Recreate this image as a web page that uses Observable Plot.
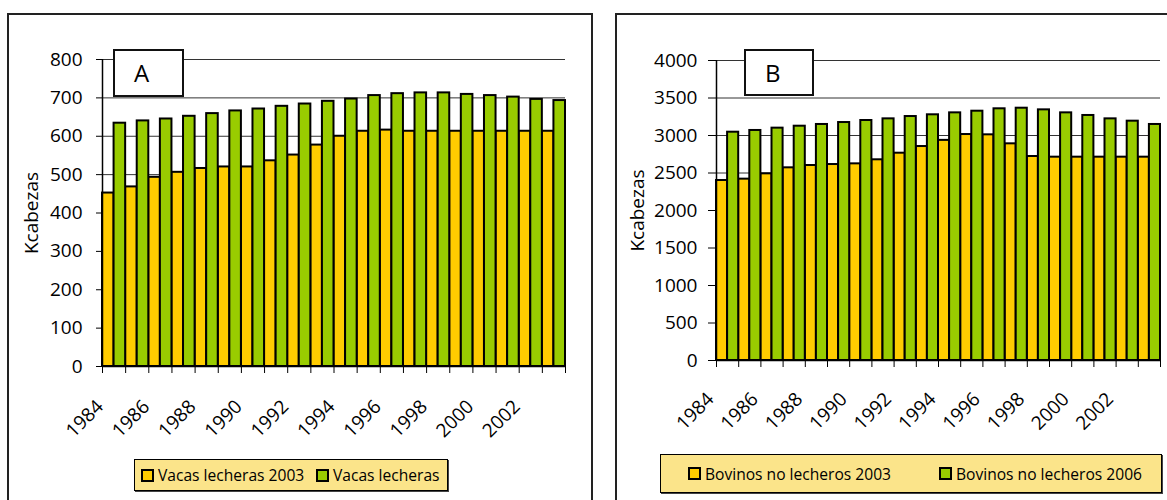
<!DOCTYPE html>
<html>
<head>
<meta charset="utf-8">
<script src="https://cdn.jsdelivr.net/npm/d3@7"></script>
<script src="https://cdn.jsdelivr.net/npm/@observablehq/plot@0.6"></script>
<style>
  body { margin: 0; background: #fff; font-family: "Open Sans", sans-serif; }
  #page { position: relative; width: 1167px; height: 500px; overflow: hidden; background: #fff; }
  .panel { position: absolute; border: 2px solid #222; box-sizing: border-box; }
  .plot { position: absolute; top: 0; }
  .plot svg { overflow: visible; }
  .plot svg text { font-size: 19px; font-family: "Open Sans", sans-serif; fill: #000; }
  .tag { position: absolute; background: #fff; border: 2px solid #111; box-sizing: border-box;
         font-size: 24px; line-height: 44px; color: #000; }
  .legend { position: absolute; background: #fbe48a; border: 1px solid #000; box-shadow: 1px 1px 0 #444;
            box-sizing: border-box; font-size: 15.6px; color: #000; }
  .item { position: absolute; top: 0; height: 100%; display: flex; align-items: center; white-space: nowrap; }
  .sw { display: inline-block; width: 13px; height: 13px; border: 2px solid #000; box-sizing: border-box; margin-right: 4px; }
</style>
</head>
<body>
<div id="page">
  <div class="panel" style="left:7px;top:13px;width:586px;height:520px;"></div>
  <div class="panel" style="left:615px;top:13px;width:600px;height:520px;"></div>
  <div id="plotA" class="plot" style="left:0px;"></div>
  <div id="plotB" class="plot" style="left:590px;"></div>
  <div class="tag" style="left:113px;top:49px;width:71px;height:48px;padding-left:19px;">A</div>
  <div class="tag" style="left:744px;top:49px;width:70px;height:47px;padding-left:19px;">B</div>
  <div id="legA" class="legend" style="left:134px;top:459px;width:314px;height:32px;"></div>
  <div id="legB" class="legend" style="left:660px;top:454px;width:502px;height:39px;"></div>
</div>
<script>
const years = [1984,1985,1986,1987,1988,1989,1990,1991,1992,1993,1994,1995,1996,1997,1998,1999,2000,2001,2002,2003];
const labelYears = [1984,1986,1988,1990,1992,1994,1996,1998,2000,2002];

const vacas2003 = [452,468,493,506,516,520,520,536,551,577,600,613,616,613,613,613,613,613,613,613];
const vacas     = [634,640,645,652,659,666,671,678,684,691,697,706,711,713,713,709,706,702,696,693];
const bovinos2003 = [2400,2418,2489,2569,2600,2613,2622,2676,2764,2853,2935,3013,3009,2889,2720,2711,2711,2711,2711,2711];
const bovinos2006 = [3044,3067,3098,3124,3147,3173,3200,3222,3253,3276,3302,3324,3356,3364,3342,3302,3267,3222,3191,3147];

const ticksA = [0,100,200,300,400,500,600,700,800];
const ticksB = [0,500,1000,1500,2000,2500,3000,3500,4000];

const seriesA = ["Vacas lecheras 2003", "Vacas lecheras"];
const seriesB = ["Bovinos no lecheros 2003", "Bovinos no lecheros 2006"];
const colors = ["#FFCC00", "#99CC00"];

function makeChart(s1, s2, yTicks, o) {
  const left = years.map((yr, i) => ({x1: yr - 0.5, x2: yr, v: s1[i]}));
  const right = years.map((yr, i) => ({x1: yr, x2: yr + 0.5, v: s2[i]}));
  const bounds = years.map(yr => yr - 0.5).concat([years[years.length - 1] + 0.5]);
  const x0 = years[0] - 0.5;
  return Plot.plot({
    width: o.width, height: o.height,
    marginLeft: o.ml, marginRight: o.mr, marginTop: o.mt, marginBottom: o.mb,
    style: {fontFamily: "'Open Sans', sans-serif", fontSize: "19px", color: "#000", background: "transparent", overflow: "visible"},
    x: {domain: [x0, years[years.length - 1] + 0.5]},
    y: {domain: [0, yTicks[yTicks.length - 1]]},
    marks: [
      Plot.gridY(yTicks, {stroke: "#333", strokeOpacity: 1, strokeWidth: 1}),
      Plot.rectY(left, {x1: "x1", x2: "x2", y: "v", fill: colors[0], stroke: "#000", strokeWidth: 2}),
      Plot.rectY(right, {x1: "x1", x2: "x2", y: "v", fill: colors[1], stroke: "#000", strokeWidth: 2}),
      Plot.ruleX([x0], {stroke: "#000", strokeWidth: 1.5}),
      Plot.ruleY([0], {stroke: "#000", strokeWidth: 1.5}),
      Plot.axisY(yTicks, {tickSize: o.yTickSize, tickPadding: o.yTickPad, tickFormat: d => String(d),
        label: "Kcabezas", labelAnchor: "center", labelArrow: "none", labelOffset: o.labelOffset}),
      Plot.axisX(bounds, {tickSize: 7, tickFormat: () => "", label: null}),
      Plot.axisX(labelYears, {tickSize: 0, tickPadding: o.xPad, tickRotate: -45, dx: o.dx, tickFormat: d => String(d), label: null})
    ]
  });
}

document.getElementById("plotA").append(makeChart(vacas2003, vacas, ticksA,
  {width: 590, height: 450, ml: 102, mr: 25, mt: 59, mb: 84, yTickSize: 6, yTickPad: 14, labelOffset: 78.5, xPad: 37, dx: -14}));
document.getElementById("plotB").append(makeChart(bovinos2003, bovinos2006, ticksB,
  {width: 577, height: 450, ml: 126, mr: 7, mt: 60, mb: 90, yTickSize: 8, yTickPad: 11, labelOffset: 86.5, xPad: 35.5, dx: -17}));

function legend(id, names, lefts) {
  const el = document.getElementById(id);
  names.forEach((n, i) => {
    const it = document.createElement("div");
    it.className = "item";
    it.style.left = lefts[i] + "px";
    const sw = document.createElement("span");
    sw.className = "sw";
    sw.style.background = colors[i];
    it.append(sw, document.createTextNode(n));
    el.append(it);
  });
}
legend("legA", seriesA, [6, 181]);
legend("legB", seriesB, [27, 278]);
</script>
</body>
</html>
